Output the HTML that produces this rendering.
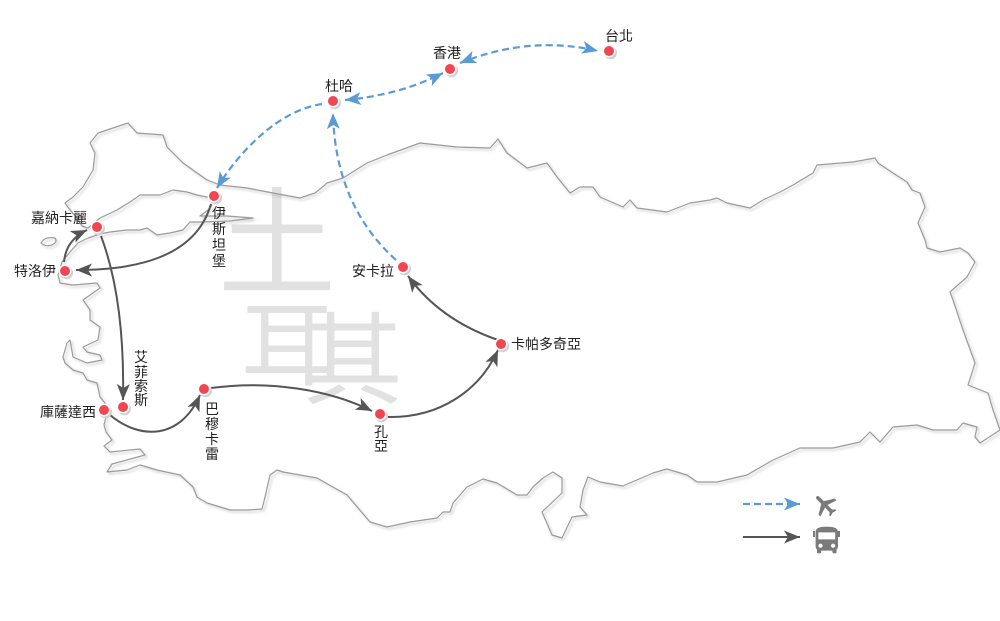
<!DOCTYPE html>
<html><head><meta charset="utf-8">
<style>
html,body{margin:0;padding:0;background:#fff;}
body{width:1000px;height:621px;overflow:hidden;}
svg{display:block;}
.t{font-family:"Liberation Sans","Noto Sans CJK TC","Noto Sans CJK SC",sans-serif;font-size:14px;fill:#222;}
.w{font-family:"Noto Sans CJK TC","Noto Sans CJK SC",sans-serif;fill:#e1e1e1;}
</style></head>
<body>
<svg width="1000" height="621" viewBox="0 0 1000 621" xmlns="http://www.w3.org/2000/svg">
<defs>
<filter id="sh" x="-5%" y="-5%" width="110%" height="115%"><feDropShadow dx="2" dy="2" stdDeviation="1.2" flood-color="#000" flood-opacity="0.22"/></filter>
<marker id="ab" markerUnits="userSpaceOnUse" markerWidth="17" markerHeight="14" refX="16" refY="6.5" orient="auto-start-reverse"><path d="M0,0 L16,6.5 L0,13 L4,6.5 Z" fill="#5b9bd5"/></marker>
<marker id="ag" markerUnits="userSpaceOnUse" markerWidth="17" markerHeight="14" refX="16" refY="6.5" orient="auto-start-reverse"><path d="M0,0 L16,6.5 L0,13 L4,6.5 Z" fill="#555"/></marker>
<g id="dot"><circle cx="1.5" cy="1.8" r="6.5" fill="#cfcfcf"/><circle r="6.5" fill="#fff"/><circle r="5" fill="#f04651"/></g>
</defs>

<!-- watermark -->
<text class="w" x="218" y="286" font-size="118">土</text>
<text class="w" x="241" y="378" font-size="92">耳</text>
<text class="w" x="303" y="396" font-size="100">其</text>

<!-- map outline -->
<g fill="none" stroke="#9a9a9a" stroke-width="1.2" stroke-linejoin="round" filter="url(#sh)">
<path d="M212,200 L207,197 L197,195 L187,192 L173,190 L160,195 L140,195 L130,202 L117,210 L100,218 L88,228 L82,226 L77,218 L70,210 L65,203 L73,197 L83,187 L93,170 L95,153 L90,143 L98,133 L128,123 L137,133 L163,135 L167,147 L183,163 L207,180 L220,185 L247,188 L273,193 L300,198 L315,193 L325,185 L327,183 L343,178 L367,163 L387,155 L420,143 L457,147 L490,148 L498,139 L507,153 L527,168 L547,163 L557,177 L570,193 L580,187 L593,187 L600,197 L623,207 L630,200 L637,208 L667,212 L690,203 L710,200 L717,198 L727,203 L750,208 L763,200 L780,192 L793,185 L813,173 L817,165 L853,162 L875,158 L878,163 L893,173 L907,182 L912,190 L920,193 L925,207 L918,223 L925,240 L927,248 L940,252 L960,248 L968,253 L975,262 L967,277 L950,292 L953,300 L963,330 L975,363 L968,385 L988,393 L993,410 L1000,430 L980,443 L975,437 L977,427 L963,423 L957,430 L933,430 L917,425 L893,427 L880,442 L870,432 L860,442 L833,448 L800,448 L773,460 L747,475 L717,482 L697,482 L687,475 L667,469 L653,473 L623,486 L600,482 L588,477 L583,490 L580,507 L587,515 L572,517 L562,538 L552,535 L542,512 L562,493 L562,478 L553,472 L543,478 L533,487 L527,495 L517,495 L497,483 L483,479 L467,487 L453,503 L450,512 L443,512 L437,518 L410,522 L387,527 L370,522 L347,495 L317,478 L283,472 L277,470 L270,475 L265,497 L262,509 L247,510 L230,510 L207,503 L197,497 L193,487 L180,475 L157,470 L140,465 L127,470 L107,472 L112,464 L145,455 L140,449 L110,452 L104,446 L112,440 L106,432 L104,425 L107,413 L105,403 L100,397 L97,383 L87,380 L83,373 L73,370 L65,363 L63,357 L67,343 L70,340 L73,357 L87,363 L102,360 L100,355 L87,352 L83,347 L98,340 L100,327 L90,320 L90,310 L83,300 L100,288 L97,283 L73,285 L60,283 L58,275 L62,262 L70,252 L78,243 L88,238 L100,234 L110,232 L127,230 L140,230 L147,228 L157,235 L170,233 L183,230 L190,222 L200,222 L230,221 L253,218 L227,216 L200,216 L208,210 L212,205"/>
<path d="M41,243 Q45,236 55,238 Q58,242 52,245 Q45,247 41,243 Z"/>
</g>

<!-- flight connectors -->
<g fill="none" stroke="#5b9bd5" stroke-width="2.2" stroke-dasharray="7,4">
<path d="M460,63 Q530,35 598,51" marker-start="url(#ab)" marker-end="url(#ab)"/>
<path d="M345,100 Q400,95 443,73" marker-start="url(#ab)" marker-end="url(#ab)"/>
<path d="M322,104 C280,110 240,150 217,188" marker-end="url(#ab)"/>
<path d="M396,260 Q335,205 333,113" marker-end="url(#ab)"/>
</g>

<!-- bus connectors -->
<g fill="none" stroke="#555" stroke-width="2">
<path d="M211,204 C195,260 130,270 76,270" marker-end="url(#ag)"/>
<path d="M64,262 Q66,240 87,230" marker-end="url(#ag)"/>
<path d="M101,236 Q125,300 123,400" marker-end="url(#ag)"/>
<path d="M110,415 C140,440 180,440 200,395" marker-end="url(#ag)"/>
<path d="M211,388 C270,380 330,390 372,411" marker-end="url(#ag)"/>
<path d="M388,417 C440,418 480,390 498,350" marker-end="url(#ag)"/>
<path d="M498,340 Q440,320 408,276" marker-end="url(#ag)"/>
</g>

<!-- dots -->
<use href="#dot" x="609" y="51"/>
<use href="#dot" x="450" y="69"/>
<use href="#dot" x="333" y="101"/>
<use href="#dot" x="214" y="196"/>
<use href="#dot" x="97" y="227"/>
<use href="#dot" x="65" y="271"/>
<use href="#dot" x="123" y="407"/>
<use href="#dot" x="104" y="410"/>
<use href="#dot" x="204" y="389"/>
<use href="#dot" x="380" y="414"/>
<use href="#dot" x="501" y="344"/>
<use href="#dot" x="403" y="267"/>

<!-- labels -->
<text class="t" x="619" y="41" text-anchor="middle">台北</text>
<text class="t" x="447" y="58" text-anchor="middle">香港</text>
<text class="t" x="339" y="91" text-anchor="middle">杜哈</text>
<text class="t" x="31" y="223">嘉納卡麗</text>
<text class="t" x="14" y="276">特洛伊</text>
<text class="t" x="40" y="417">庫薩達西</text>
<text class="t" x="352" y="276">安卡拉</text>
<text class="t" x="511" y="349">卡帕多奇亞</text>
<g class="t" text-anchor="middle">
<text x="219" y="218">伊</text><text x="219" y="234">斯</text><text x="219" y="250">坦</text><text x="219" y="266">堡</text>
<text x="141" y="362">艾</text><text x="141" y="377">菲</text><text x="141" y="391">索</text><text x="141" y="405">斯</text>
<text x="212" y="414">巴</text><text x="212" y="429">穆</text><text x="212" y="444">卡</text><text x="212" y="459">雷</text>
<text x="381" y="437">孔</text><text x="381" y="451">亞</text>
</g>

<!-- legend -->
<path d="M743,504 L800,504" stroke="#5b9bd5" stroke-width="2.2" stroke-dasharray="7,4" fill="none" marker-end="url(#ab)"/>
<path d="M743,537 L800,537" stroke="#555" stroke-width="2" fill="none" marker-end="url(#ag)"/>
<path transform="translate(825,505) rotate(-45) scale(1.2) translate(-11.5,-12)" fill="#7a7a7a" d="M21 16v-2l-8-5V3.5c0-.83-.67-1.5-1.5-1.5S10 2.67 10 3.5V9l-8 5v2l8-2.5V19l-2 1.5V22l3.5-1 3.5 1v-1.5L13 19v-5.5l8 2.5z"/>
<g fill="#7a7a7a">
<path transform="translate(810,524) scale(1.4)" d="M4 16c0 .88.39 1.67 1 2.22V20c0 .55.45 1 1 1h1c.55 0 1-.45 1-1v-1h8v1c0 .55.45 1 1 1h1c.55 0 1-.45 1-1v-1.78c.61-.55 1-1.34 1-2.220V6c0-3.5-3.58-4-8-4s-8 .5-8 4v10zm3.5 1c-.83 0-1.5-.67-1.5-1.5S6.67 14 7.5 14s1.5.67 1.5 1.5S8.33 17 7.5 17zm9 0c-.83 0-1.5-.67-1.5-1.5s.67-1.5 1.5-1.5 1.5.67 1.5 1.5-.67 1.5-1.5 1.5zm1.5-6H6V6h12v5z"/>
<rect x="813" y="531" width="2" height="6"/>
<rect x="838" y="531" width="2" height="6"/>
</g>
</svg>
</body></html>
